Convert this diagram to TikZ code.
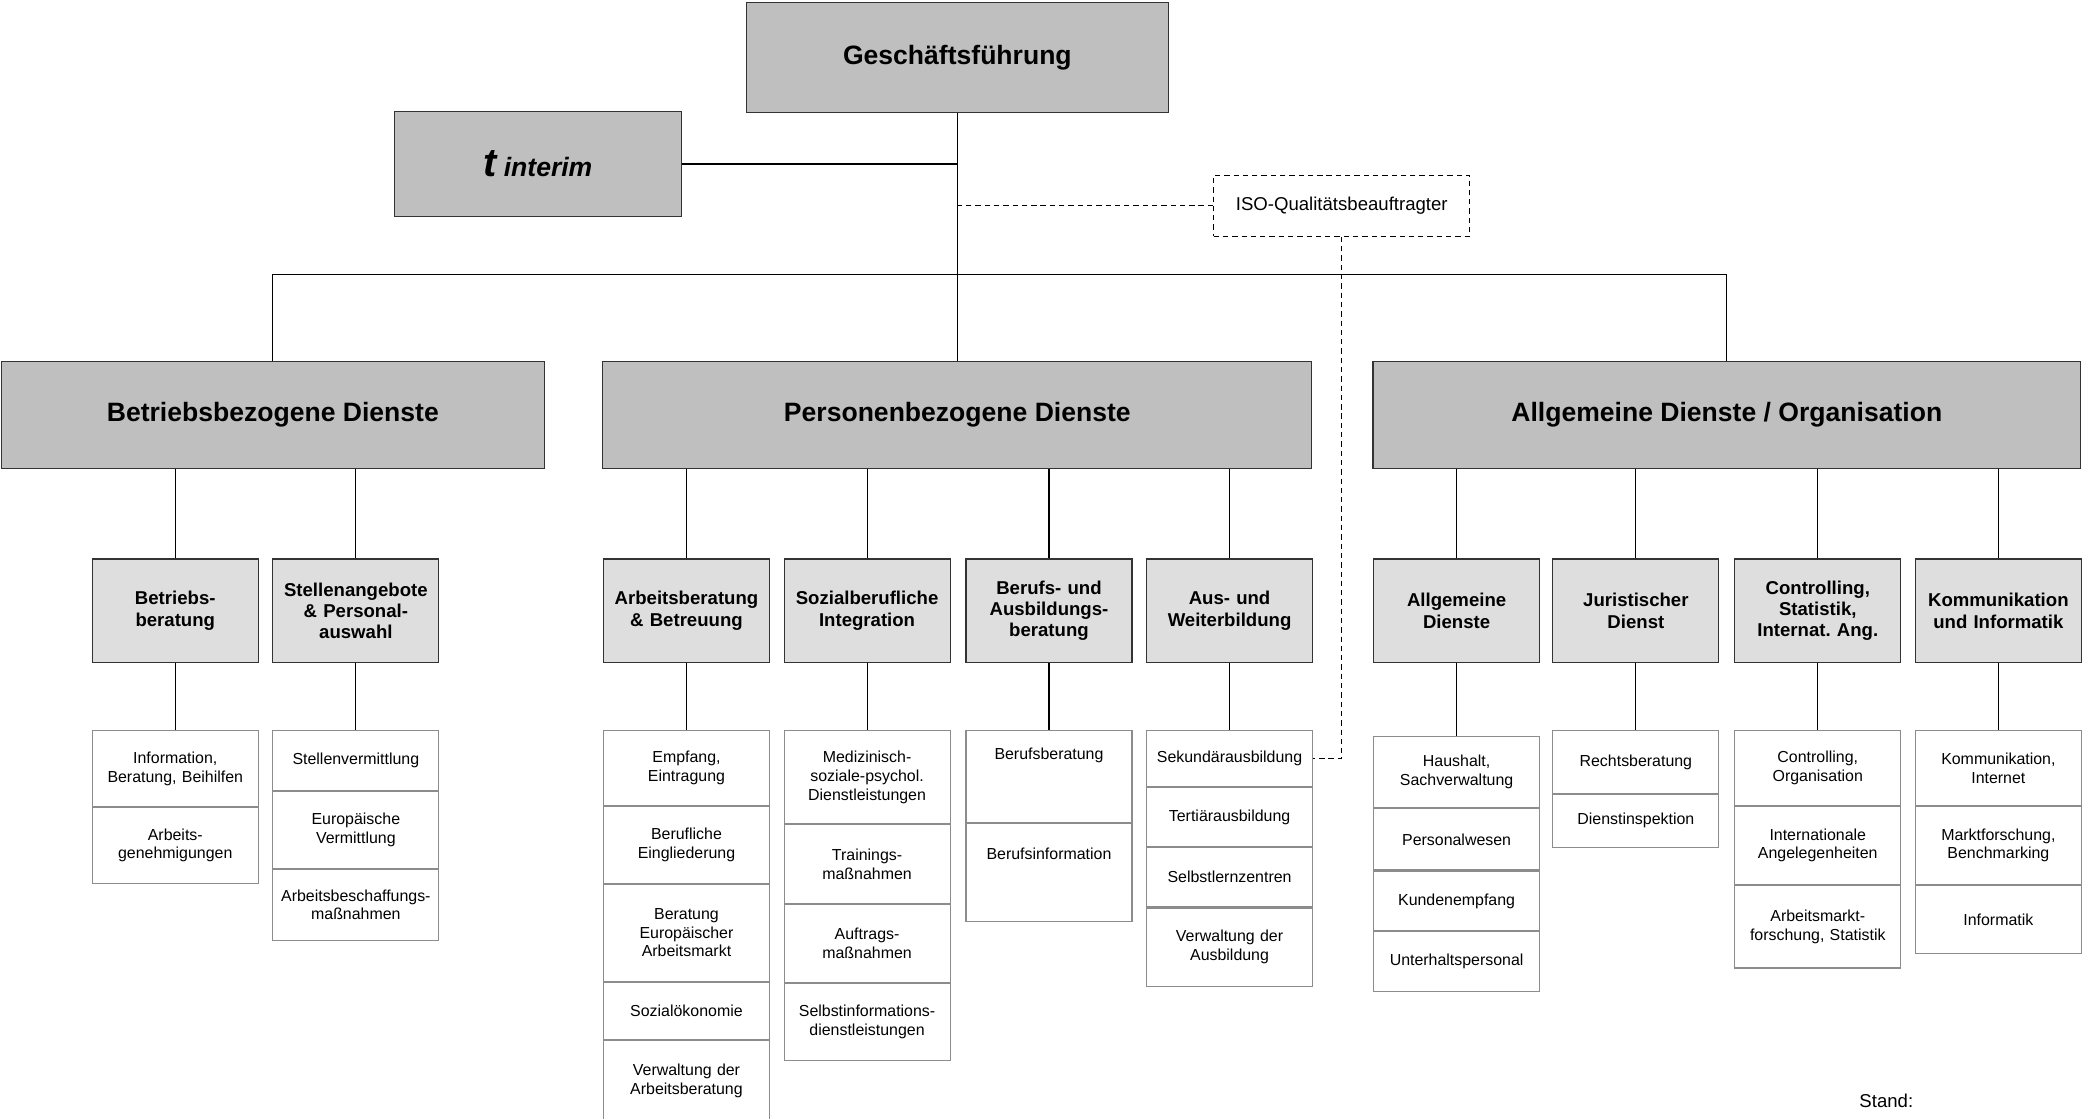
\documentclass[tikz,border=0pt]{standalone}
\usepackage{fontspec}
\setmainfont{Liberation Sans}
\usetikzlibrary{positioning}
\tikzset{
	x=0.5pt, y=-0.5pt, % one unit is one pixel of the sketch, y going down
	line width=0.6pt,
	leitung/.style={draw=black!80, fill=black!25, align=center, font=\bfseries\fontsize{10}{12}\selectfont}, % top boxes and main areas
	bereich/.style={leitung, minimum height=40.5pt},
	abteilung/.style={draw=black!80, fill=black!13, minimum width=62.5pt, minimum height=39pt, text width=59.5pt, inner xsep=1.5pt, align=center, font=\bfseries\fontsize{7}{8}\selectfont},
	eintrag/.style={draw=black!45, fill=white, text width=58.5pt, inner xsep=2pt, inner ysep=0pt, align=center, font=\fontsize{6}{7}\selectfont}, % one cell of a list
	stab/.style={draw=black, dash pattern=on 2pt off 1.5pt}, % staff position
}

\begin{document}
\begin{tikzpicture}
	\useasboundingbox (0,0) rectangle (1568,842);
	% Leitung
	\node[leitung, minimum width=159pt, minimum height=41.5pt] (gf) at (721,43.5) {Geschäftsführung};
	\node[leitung, minimum width=108pt, minimum height=39.5pt, font=\bfseries\itshape\fontsize{10}{12}\selectfont] (ti) at (405,123.5) {{\fontsize{15}{15}\selectfont t} interim};
	\node[stab, minimum width=96.5pt, minimum height=23pt, font=\fontsize{7}{8}\selectfont] (iso) at (1010.5,155) {ISO-Qualitätsbeauftragter};
	\coordinate (bus) at (0,207);

	% Hauptbereiche
	\node[bereich, minimum width=204.5pt] (bd) at (205.5,312.5) {Betriebsbezogene Dienste};
	\node[bereich, minimum width=267pt] (pd) at (721,312.5) {Personenbezogene Dienste};
	\node[bereich, minimum width=266.5pt] (ao) at (1300.5,312.5) {Allgemeine Dienste / Organisation};

	% Abteilungen
	\node[abteilung] (bb) at (132,460) {Betriebs-\\beratung};
	\node[abteilung] (sa) at (268,460) {Stellenangebote\\\& Personal-\\auswahl};
	\node[abteilung] (ab) at (517,460) {Arbeitsberatung\\\& Betreuung};
	\node[abteilung] (si) at (653,460) {Sozialberufliche\\Integration};
	\node[abteilung] (bab) at (790,460) {Berufs- und\\Ausbildungs-\\beratung};
	\node[abteilung] (aw) at (926,460) {Aus- und\\Weiterbildung};
	\node[abteilung] (ad) at (1097,460) {Allgemeine\\Dienste};
	\node[abteilung] (jd) at (1232,460) {Juristischer\\Dienst};
	\node[abteilung] (cs) at (1369,460) {Controlling,\\Statistik,\\Internat.\ Ang.};
	\node[abteilung] (ki) at (1505,460) {Kommunikation\\und Informatik};

	% Listen
	\node[eintrag, minimum height=28.5pt, anchor=north] (bb1) at (132,550) {Information,\\Beratung, Beihilfen};
	\node[eintrag, minimum height=28.5pt, below=0pt of bb1] (bb2) {Arbeits-\\genehmigungen};

	\node[eintrag, minimum height=22.5pt, anchor=north] (sa1) at (268,550) {Stellenvermittlung};
	\node[eintrag, minimum height=29pt, below=0pt of sa1] (sa2) {Europäische\\Vermittlung};
	\node[eintrag, minimum height=26.5pt, below=0pt of sa2] (sa3) {Arbeitsbeschaffungs-\\maßnahmen};

	\node[eintrag, minimum height=28pt, anchor=north] (ab1) at (517,550) {Empfang,\\Eintragung};
	\node[eintrag, minimum height=29pt, below=0pt of ab1] (ab2) {Berufliche\\Eingliederung};
	\node[eintrag, minimum height=36.5pt, below=0pt of ab2] (ab3) {Beratung\\Europäischer\\Arbeitsmarkt};
	\node[eintrag, minimum height=21.5pt, below=0pt of ab3] (ab4) {Sozialökonomie};
	\node[eintrag, minimum height=30.5pt, below=0pt of ab4] (ab5) {Verwaltung der\\Arbeitsberatung};

	\node[eintrag, minimum height=35pt, anchor=north] (si1) at (653,550) {Medizinisch-\\soziale-psychol.\\Dienstleistungen};
	\node[eintrag, minimum height=29.5pt, below=0pt of si1] (si2) {Trainings-\\maßnahmen};
	\node[eintrag, minimum height=29.5pt, below=0pt of si2] (si3) {Auftrags-\\maßnahmen};
	\node[eintrag, minimum height=29pt, below=0pt of si3] (si4) {Selbstinformations-\\dienstleistungen};

	\node[eintrag, minimum height=34.5pt, text depth=17pt, anchor=north] (bab1) at (790,550) {Berufsberatung};
	\node[eintrag, minimum height=37pt, text depth=14.5pt, below=0pt of bab1] (bab2) {Berufsinformation};

	\node[eintrag, minimum height=21pt, anchor=north] (aw1) at (926,550) {Sekundärausbildung};
	\node[eintrag, minimum height=22pt, below=0pt of aw1] (aw2) {Tertiärausbildung};
	\node[eintrag, minimum height=22.5pt, below=0pt of aw2] (aw3) {Selbstlernzentren};
	\node[eintrag, minimum height=29.5pt, below=0pt of aw3] (aw4) {Verwaltung der\\Ausbildung};

	\node[eintrag, minimum height=27pt, anchor=north] (ad1) at (1097,554) {Haushalt,\\Sachverwaltung};
	\node[eintrag, minimum height=23pt, below=0pt of ad1] (ad2) {Personalwesen};
	\node[eintrag, minimum height=22.5pt, below=0pt of ad2] (ad3) {Kundenempfang};
	\node[eintrag, minimum height=22.5pt, below=0pt of ad3] (ad4) {Unterhaltspersonal};

	\node[eintrag, minimum height=23.5pt, anchor=north] (jd1) at (1232,550) {Rechtsberatung};
	\node[eintrag, minimum height=20pt, below=0pt of jd1] (jd2) {Dienstinspektion};

	\node[eintrag, minimum height=28pt, anchor=north] (cs1) at (1369,550) {Controlling,\\Organisation};
	\node[eintrag, minimum height=29.5pt, below=0pt of cs1] (cs2) {Internationale\\Angelegenheiten};
	\node[eintrag, minimum height=31pt, below=0pt of cs2] (cs3) {Arbeitsmarkt-\\forschung, Statistik};

	\node[eintrag, minimum height=28pt, anchor=north] (ki1) at (1505,550) {Kommunikation,\\Internet};
	\node[eintrag, minimum height=29.5pt, below=0pt of ki1] (ki2) {Marktforschung,\\Benchmarking};
	\node[eintrag, minimum height=25.5pt, below=0pt of ki2] (ki3) {Informatik};

	\node[anchor=west, inner sep=0pt, font=\fontsize{7}{8}\selectfont] (stand) at (1400,829) {Stand:};

	% Verbindungen
	\draw (gf) -- (pd);
	\draw (ti) -- (ti -| gf);
	\draw (bd) |- (bus -| ao) -- (ao);
	\draw[stab] (iso) -- (iso -| gf);
	\draw[stab] (iso) |- (aw1);

	\draw (bb) -- (bb |- bd.south);
	\draw (sa) -- (sa |- bd.south);
	\draw (ab) -- (ab |- pd.south);
	\draw (si) -- (si |- pd.south);
	\draw (bab) -- (bab |- pd.south);
	\draw (aw) -- (aw |- pd.south);
	\draw (ad) -- (ad |- ao.south);
	\draw (jd) -- (jd |- ao.south);
	\draw (cs) -- (cs |- ao.south);
	\draw (ki) -- (ki |- ao.south);

	\draw (bb) -- (bb1);
	\draw (sa) -- (sa1);
	\draw (ab) -- (ab1);
	\draw (si) -- (si1);
	\draw (bab) -- (bab1);
	\draw (aw) -- (aw1);
	\draw (ad) -- (ad1);
	\draw (jd) -- (jd1);
	\draw (cs) -- (cs1);
	\draw (ki) -- (ki1);
\end{tikzpicture}
\end{document}
